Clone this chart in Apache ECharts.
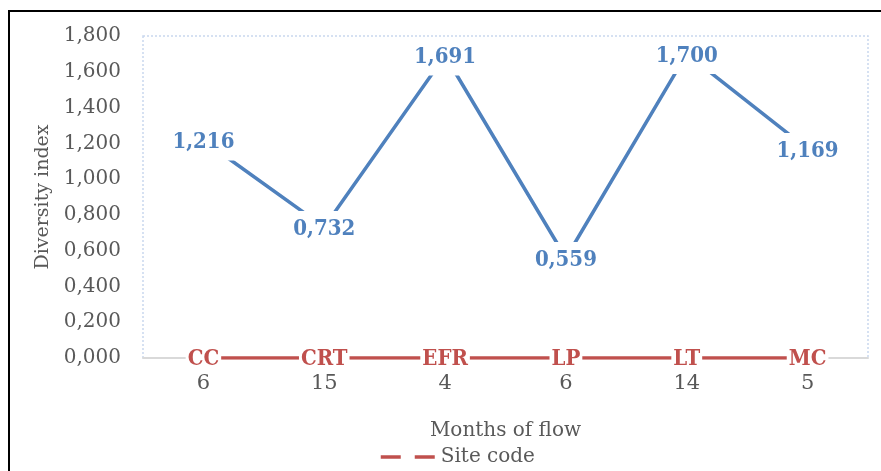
<!DOCTYPE html>
<html lang="en">
<head>
    <meta charset="UTF-8">
    <title>Diversity index</title>
    <script src="https://cdn.jsdelivr.net/npm/echarts@6/dist/echarts.min.js"></script>
    <style type="text/css">
        html, body {
            margin: 0;
            height: 100%;
            background: #fff;
        }
        #main {
            width: 881px;
            height: 471px;
        }
        #frame {
            position: absolute;
            left: 8px;
            top: 10px;
            width: 900px;
            height: 500px;
            border-left: 2px solid #000;
            border-top: 2px solid #000;
            pointer-events: none;
        }
    </style>
</head>
<body>

<div id="main"></div>
<div id="frame"></div>

<script>
    const months = ['6', '15', '4', '6', '14', '5'];
    const siteCodes = ['CC', 'CRT', 'EFR', 'LP', 'LT', 'MC'];
    const diversity = [1.216, 0.732, 1.691, 0.559, 1.700, 1.169];
    const siteLine = [0, 0, 0, 0, 0, 0];

    const fontFamily = 'DejaVu Serif';
    const labelFont = '"DejaVu Serif Condensed", "DejaVu Serif"';
    const comma = v => v.toFixed(3).replace('.', ',');

    const grid = {left: 143, right: 13, top: 36, bottom: 113};

    const myChart = echarts.init(document.getElementById('main'), null, {renderer: 'canvas'});
    const option = {
        textStyle: {fontFamily: fontFamily},
        animation: false,
        grid: grid,
        legend: {
            data: ['Site code'],
            left: 374,
            top: 442,
            itemWidth: 55,
            itemHeight: 14,
            itemGap: 4,
            lineStyle: {type: [20, 14], width: 3.5},
            itemStyle: {color: 'transparent', borderWidth: 0},
            textStyle: {fontFamily: fontFamily, fontSize: 20, color: '#595959'}
        },
        graphic: [{
            type: 'rect',
            z: 0,
            silent: true,
            shape: {x: grid.left, y: grid.top, width: 881 - grid.left - grid.right, height: 471 - grid.top - grid.bottom},
            style: {fill: 'none', stroke: '#c9d7ee', lineWidth: 1.5, lineDash: [2, 2]}
        }],
        xAxis: {
            type: 'category',
            data: months,
            name: 'Months of flow',
            nameLocation: 'middle',
            nameGap: 63,
            nameTextStyle: {fontFamily: fontFamily, fontSize: 20, color: '#595959'},
            axisLine: {lineStyle: {color: '#d9d9d9', width: 2}},
            axisTick: {show: false},
            axisLabel: {fontFamily: fontFamily, fontSize: 21, color: '#595959', margin: 15}
        },
        yAxis: {
            type: 'value',
            min: 0,
            max: 1.8,
            interval: 0.2,
            name: 'Diversity index',
            nameLocation: 'middle',
            nameGap: 90,
            nameTextStyle: {fontFamily: fontFamily, fontSize: 19, color: '#595959'},
            axisLine: {show: false},
            axisTick: {show: false},
            splitLine: {show: false},
            axisLabel: {
                fontFamily: fontFamily, fontSize: 20, color: '#595959', margin: 22,
                formatter: v => comma(v)
            }
        },
        series: [
            {
                name: 'Diversity index',
                type: 'line',
                data: diversity,
                symbol: 'circle',
                symbolSize: 0.1,
                z: 3,
                lineStyle: {color: '#4f81bd', width: 3.5},
                itemStyle: {color: '#4f81bd'},
                label: {
                    show: true,
                    position: 'inside',
                    offset: [0, 2],
                    formatter: p => comma(p.value),
                    fontFamily: labelFont,
                    fontSize: 22,
                    fontWeight: 'bold',
                    color: '#4f81bd',
                    backgroundColor: '#fff',
                    padding: [8, 8, 6, 8]
                }
            },
            {
                name: 'Site code',
                type: 'line',
                data: siteLine,
                symbol: 'circle',
                symbolSize: 0.1,
                z: 3,
                lineStyle: {color: '#c0504d', width: 3.5},
                itemStyle: {color: '#c0504d'},
                label: {
                    show: true,
                    position: 'inside',
                    offset: [0, 1],
                    formatter: p => siteCodes[p.dataIndex],
                    fontFamily: labelFont,
                    fontSize: 22,
                    fontWeight: 'bold',
                    color: '#c0504d',
                    backgroundColor: '#fff',
                    padding: [2, 2]
                }
            }
        ]
    };

    myChart.setOption(option);
</script>
</body>
</html>
